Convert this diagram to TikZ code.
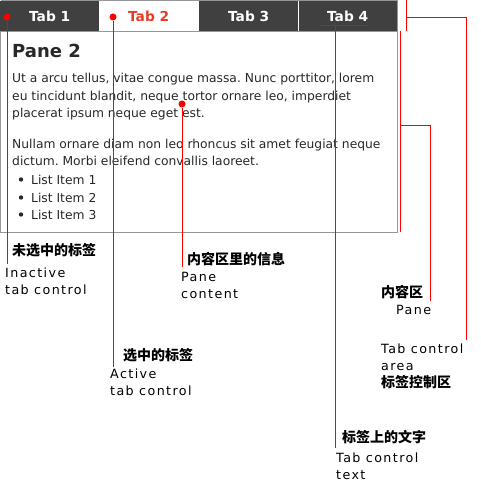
\documentclass[tikz,border=0pt]{standalone}
\usepackage{fontspec}
\setmainfont{DejaVu Sans}
\newfontfamily\cjk{Noto Sans CJK SC}
\newfontfamily\spaced[LetterSpace=11]{DejaVu Sans}
\usetikzlibrary{calc}
\frenchspacing

\definecolor{tabdark}{RGB}{64,64,64}
\definecolor{tabred}{RGB}{232,60,40}
\definecolor{paneline}{RGB}{150,150,150}
\definecolor{bodytext}{RGB}{40,40,40}

\begin{document}
\begin{tikzpicture}[x=1pt, y=-1pt,
  tabbox/.style={rectangle, fill=tabdark, text=white, font=\fontsize{13.8}{15}\selectfont\bfseries,
                 minimum width=99pt, minimum height=30pt, inner sep=0pt, anchor=north west},
  tabactive/.style={tabbox, fill=white, text=tabred},
  reddot/.style={circle, fill=red, inner sep=0pt, minimum size=7pt},
  callout/.style={draw=red, line width=0.8pt},
  pane/.style={anchor=base west, inner sep=0pt, text=bodytext, align=left,
               font=\fontsize{12.3}{17.6}\selectfont},
  lbl/.style={anchor=base west, inner sep=0pt, align=left, font=\spaced\fontsize{12.7}{17}\selectfont},
  cnlbl/.style={anchor=base west, inner sep=0pt, font=\cjk\bfseries\fontsize{14}{16}\selectfont}]

\useasboundingbox (0,0) rectangle (480,486);

%─────────────
% Tabs and pane
%─────────────
\draw[paneline, fill=white] (0.5,31) rectangle (397,232);
\draw[paneline] (0.5,0.5) -- (397,0.5) -- (397,31);

\node[tabbox]    (tabA) at (0,1)   {Tab 1};
\node[tabactive] (tabB) at (99,1)  {Tab 2};
\node[tabbox]    (tabC) at (199,1) {Tab 3};
\node[tabbox]    (tabD) at (298,1) {Tab 4};
\draw[white] (tabD.north west) -- (tabD.south west);

% pane text (base = last line)
\node[pane, font=\fontsize{18}{20}\selectfont\bfseries] (head) at (12,58) {Pane 2};
\node[pane] (para1) at (12,118) {Ut a arcu tellus, vitae congue massa. Nunc porttitor, lorem\\
  eu tincidunt blandit, neque tortor ornare leo, imperdiet\\
  placerat ipsum neque eget est.};
\node[pane] (para2) at (12,166) {Nullam ornare diam non leo rhoncus sit amet feugiat neque\\
  dictum. Morbi eleifend convallis laoreet.};
\foreach \i/\y in {1/184, 2/202, 3/219} {
  \fill[bodytext] (21,\y-4.5) circle (2.2pt);
  \node[pane] (item\i) at (31,\y) {List Item \i};
}

%─────────────
% Callout points
%─────────────
\node[reddot] (dotA) at (7,17)    {};
\node[reddot] (dotB) at (113,17)  {};
\node[reddot] (dotC) at (182,104) {};
\coordinate (ulA) at (321,25);
\coordinate (ulB) at (368,25);
\coordinate (ulM) at (335,25);

% line ends
\coordinate (endA) at (7,264);
\coordinate (endB) at (113,367);
\coordinate (endC) at (182,267);
\coordinate (endD) at (335,448);

% brackets on the right
\coordinate (paneTop) at (400,31);
\coordinate (paneBot) at (400,232);
\coordinate (paneMid) at (400,125);
\coordinate (paneTurn) at (430,125);
\coordinate (paneEnd) at (430,301);
\coordinate (areaTop) at (406,0);
\coordinate (areaBot) at (406,31);
\coordinate (areaMid) at (406,17);
\coordinate (areaTurn) at (466,17);
\coordinate (areaEnd) at (466,340);

\draw[callout] (dotA) -- (endA);
\draw[callout] (dotB) -- (endB);
\draw[callout] (dotC) -- (endC);
\draw[callout] (ulA) -- (ulB);
\draw[callout] (ulM) -- (endD);
\draw[callout] (paneTop) -- (paneBot);
\draw[callout] (paneMid) -- (paneTurn) -- (paneEnd);
\draw[callout] (areaTop) -- (areaBot);
\draw[callout] (areaMid) -- (areaTurn) -- (areaEnd);

%─────────────
% Labels (base = last line)
%─────────────
\node[cnlbl] (cnA) at (12,255)  {未选中的标签};
\node[lbl]   (enA) at (5,294)   {Inactive\\tab control};
\node[cnlbl] (cnB) at (123,360) {选中的标签};
\node[lbl]   (enB) at (110,395) {Active\\tab control};
\node[cnlbl] (cnC) at (187,264) {内容区里的信息};
\node[lbl]   (enC) at (181,298) {Pane\\content};
\node[cnlbl] (cnP) at (381,297) {内容区};
\node[lbl]   (enP) at (396,314) {Pane};
\node[lbl]   (enT) at (381,370) {Tab control\\area};
\node[cnlbl] (cnT) at (381,387) {标签控制区};
\node[cnlbl] (cnD) at (342,442) {标签上的文字};
\node[lbl]   (enD) at (336,479) {Tab control\\text};
\end{tikzpicture}
\end{document}
